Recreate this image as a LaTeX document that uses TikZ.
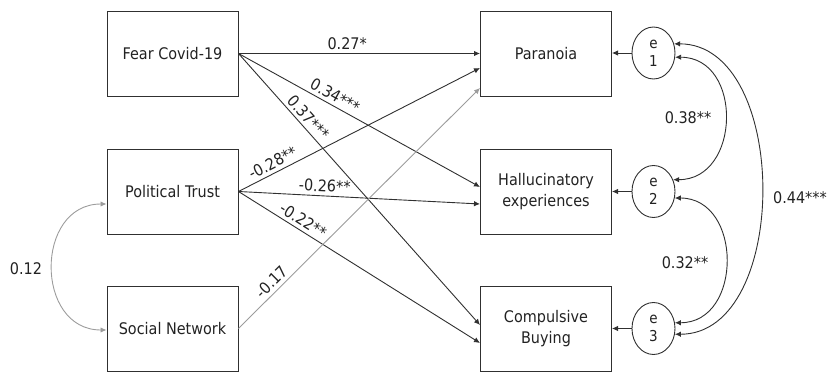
\documentclass[tikz,border=0pt]{standalone}
\usepackage{fontspec}
\setmainfont{DejaVu Sans}[FakeStretch=0.9]
\usetikzlibrary{arrows.meta,shapes.geometric,calc}
\definecolor{ink}{HTML}{222222}
\definecolor{lineink}{HTML}{303030}
\definecolor{lgray}{HTML}{9C9C9C}
\begin{document}
\begin{tikzpicture}[x=1pt,y=-1pt,
  box/.style={draw=lineink,line width=1pt,minimum width=131pt,minimum height=85pt,inner sep=0pt,align=center,font=\fontsize{16}{21}\selectfont,text=ink},
  err/.style={draw=lineink,line width=0.9pt,ellipse,minimum width=43pt,minimum height=52pt,inner sep=0pt,align=center,font=\fontsize{15}{18}\selectfont,text=ink},
  tipx/.tip={Latex[length=6pt,width=5.5pt]},
  link/.style={draw=lineink,line width=0.9pt,-tipx},
  glink/.style={link,draw=lgray},
  cov/.style={draw=lineink,line width=0.9pt,tipx-tipx},
  gcov/.style={cov,draw=lgray},
  coef/.style={sloped,above=2.5pt,inner sep=1pt,font=\fontsize{16}{18}\selectfont,text=ink},
  lab/.style={inner sep=1pt,font=\fontsize{16}{18}\selectfont,text=ink}
]
\useasboundingbox (0,0) rectangle (831,372);

\node[box] (fear) at (172.5,53.5) {Fear Covid-19};
\node[box] (pt)   at (172.5,191.5) {Political Trust};
\node[box] (sn)   at (172.5,328.5) {Social Network};
\node[box] (par)  at (546,53.5) {Paranoia};
\node[box] (hal)  at (546,191.5) {Hallucinatory\\experiences};
\node[box] (cb)   at (546,328.5) {Compulsive\\Buying};

\node[err] (e1) at (653.5,53) {e\\1};
\node[err] (e2) at (653.5,191.5) {e\\2};
\node[err] (e3) at (653.5,328.5) {e\\3};

% paths
\draw[link] (fear.east) -- node[coef,pos=.45] {0.27*} (par.west);
\draw[link] (fear.east) -- node[coef,pos=.38] {0.34***} ($(hal.west)+(0,-4.5)$);
\draw[link] (fear.east) -- node[coef,pos=.26] {0.37***} ($(cb.west)+(0,-3.5)$);
\draw[link] (pt.east) -- node[coef,pos=.16] {-0.28**} ($(par.west)+(0,14.5)$);
\draw[link] (pt.east) -- node[coef,pos=.355] {-0.26**} ($(hal.west)+(0,12.5)$);
\draw[link] (pt.east) -- node[coef,pos=.246] {-0.22**} ($(cb.west)+(0,14.5)$);
\draw[glink] (sn.east) -- node[coef,pos=.165] {-0.17} ($(par.west)+(0,34.5)$);

% residual arrows
\draw[link] (e1.west) -- (e1.west -| par.east);
\draw[link] (e2.west) -- (e2.west -| hal.east);
\draw[link] (e3.west) -- (e3.west -| cb.east);

% covariances
\draw[gcov] ($(pt.west)+(0,12.5)$) .. controls +(-72,0) and +(-72,0) .. ($(sn.west)+(0,1.5)$);
\node[lab] (c012) at (26,269) {0.12};

\draw[cov] (e1.-11) .. controls +(68,0) and +(68,0) .. (e2.31);
\node[lab] (c038) at (688,118) {0.38**};
\draw[cov] (e2.-17) .. controls +(68,0) and +(68,0) .. (e3.15);
\node[lab] (c032) at (685,263) {0.32**};
\draw[cov] (e1.24) .. controls +(116,0) and +(116,0) .. (e3.-15);
\node[lab] (c044) at (800,198) {0.44***};
\end{tikzpicture}
\end{document}
